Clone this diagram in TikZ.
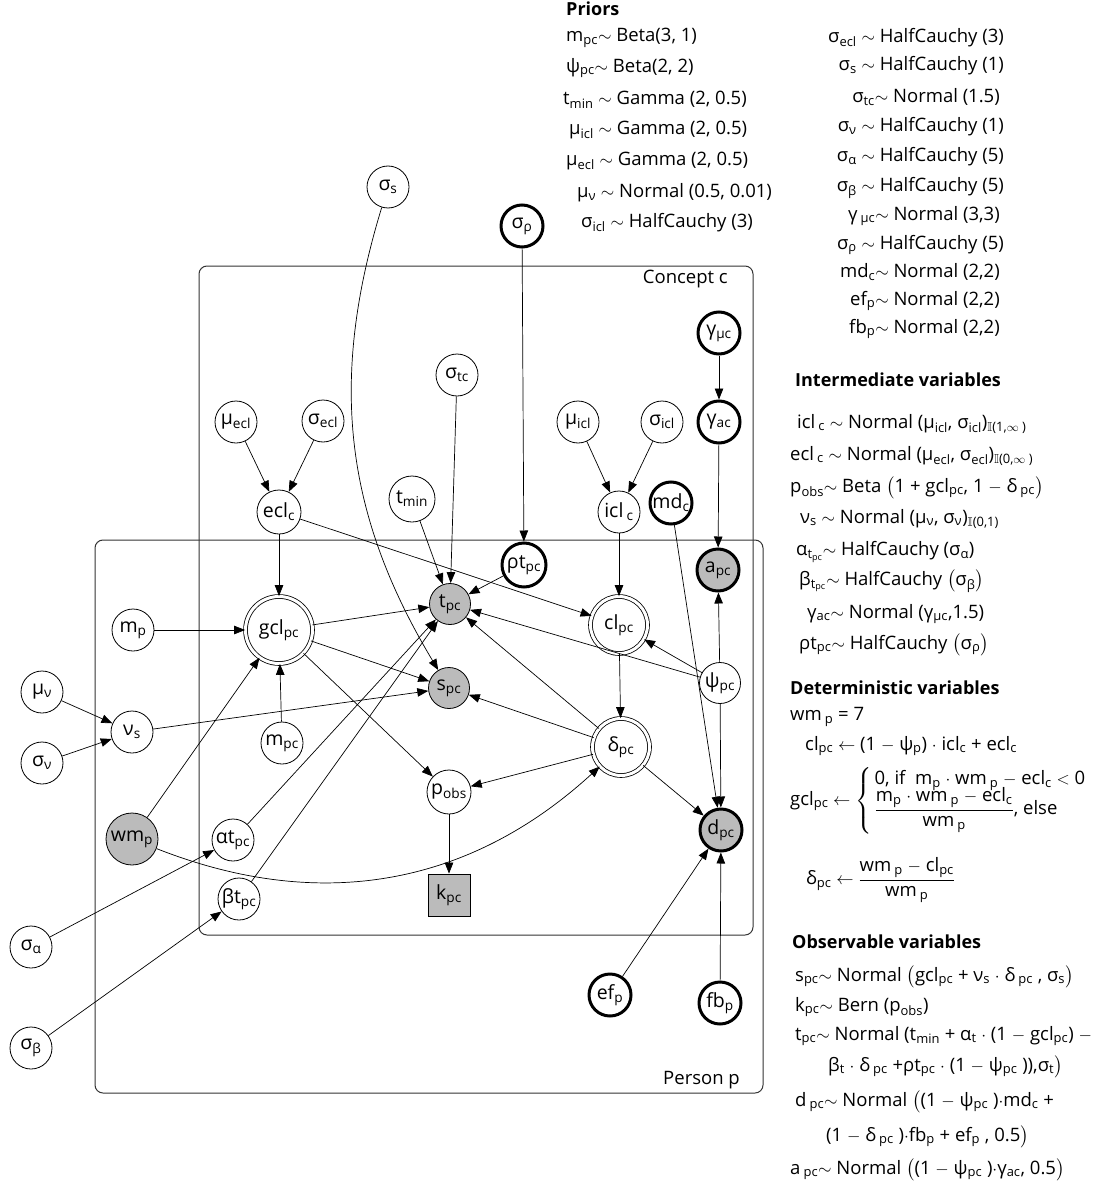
\documentclass[tikz,border=0pt]{standalone}
\usepackage{amsmath,amssymb}
\usepackage{fontspec}
\setmainfont{Open Sans}
\usetikzlibrary{arrows.meta}
\newcommand\sbs[1]{\textsubscript{#1}}
\newcommand\lpar{\smash{$\bigl($}}
\newcommand\rpar{\smash{$\bigr)$}}
\newcommand\nodefont{\fontsize{19.5}{22}\selectfont}
\newcommand\txtfont{\fontsize{18.5}{21}\selectfont}
\newcommand\headfont{\fontsize{18}{21}\selectfont\bfseries}
\definecolor{obsgray}{HTML}{BBBBBB}
\tikzset{
 var/.style={circle,draw,line width=0.8pt,fill=white,minimum size=42pt,inner sep=0pt,font=\nodefont},
 obsv/.style={fill=obsgray},
 hv/.style={line width=3pt},
 detv/.style={double,double distance=3pt,line width=0.8pt},
 edge/.style={-{Triangle[length=11pt,width=8.5pt]},line width=0.7pt},
 plate/.style={draw=black!80,line width=1pt,rounded corners=8pt},
 txt/.style={anchor=west,inner sep=0pt,font=\txtfont},
 txr/.style={anchor=east,inner sep=0pt,font=\txtfont},
 hd/.style={anchor=west,inner sep=0pt,font=\headfont},
}
\begin{document}
\begin{tikzpicture}[x=1pt,y=1pt]
\useasboundingbox (0,0) rectangle (1112,-1198);
% plates
\draw[plate] (199,-266) rectangle (753,-935);
\draw[plate] (95,-540) rectangle (763,-1093);
\node[txr] (conceptlbl) at (728,-279) {Concept c};
\node[txr] (personlbl) at (740,-1080) {Person p};
% nodes
\node[var] (ss) at (388,-187) {σ\sbs{s}};
\node[var,hv] (srho) at (522,-226) {σ\sbs{ρ}};
\node[var,hv] (gmuc) at (719,-333) {γ\sbs{μc}};
\node[var,hv] (gac) at (719,-422) {γ\sbs{ac}};
\node[var] (stc) at (457,-375) {σ\sbs{tc}};
\node[var] (muecl) at (236,-422) {μ\sbs{ecl}};
\node[var] (secl) at (323,-421) {σ\sbs{ecl}};
\node[var] (muicl) at (578,-422) {μ\sbs{icl}};
\node[var] (sicl) at (662,-422) {σ\sbs{icl}};
\node[var,minimum size=44pt] (eclc) at (279,-512) {ecl\sbs{c}};
\node[var] (iclc) at (619,-512) {icl\,\sbs{c}};
\node[var,minimum size=46pt] (tmin) at (412,-499) {t\sbs{min}};
\node[var,hv] (mdc) at (671,-503) {md\sbs{c}};
\node[var,hv,minimum size=44pt] (rtpc) at (524,-565) {ρt\sbs{pc}};
\node[var,hv,obsv] (apc) at (718,-570) {a\sbs{pc}};
\node[var,obsv,minimum size=41pt] (tpc) at (450,-604) {t\sbs{pc}};
\node[var,detv,minimum size=67pt] (gcl) at (279,-630) {gcl\sbs{pc}};
\node[var] (mp) at (133,-630) {m\sbs{p}};
\node[var,detv,minimum size=57pt] (clpc) at (619,-625) {cl\sbs{pc}};
\node[var,obsv,minimum size=41pt] (spc) at (449,-688) {s\sbs{pc}};
\node[var,minimum size=41pt] (psi) at (720,-683) {ψ\sbs{pc}};
\node[var] (muv) at (42,-692) {μ\sbs{ν}};
\node[var] (nus) at (132,-732) {ν\sbs{s}};
\node[var] (sv) at (42,-763) {σ\sbs{ν}};
\node[var] (mpc) at (282,-743) {m\sbs{pc}};
\node[var,detv,minimum size=57pt] (delta) at (621,-747) {δ\sbs{pc}};
\node[var,minimum size=44pt] (pobs) at (449,-792) {p\sbs{obs}};
\node[var,hv,obsv] (dpc) at (721,-830) {d\sbs{pc}};
\node[var,obsv,minimum size=52pt] (wmp) at (132,-839) {wm\sbs{p}};
\node[var] (atpc) at (233,-840) {αt\sbs{pc}};
\node[var] (btpc) at (239,-899) {βt\sbs{pc}};
\node[draw,line width=0.8pt,fill=obsgray,minimum size=42pt,inner sep=0pt,font=\nodefont] (kpc) at (449,-895) {k\sbs{pc}};
\node[var] (sa) at (31,-947) {σ\sbs{α}};
\node[var] (sb) at (31,-1048) {σ\sbs{β}};
\node[var,hv] (efp) at (610,-995) {ef\sbs{p}};
\node[var,hv] (fbp) at (720,-1003) {fb\sbs{p}};
% edges
\draw[edge] (muecl) -- (eclc);
\draw[edge] (secl) -- (eclc);
\draw[edge] (eclc) -- (gcl);
\draw[edge] (eclc) -- (clpc);
\draw[edge] (mp) -- (gcl);
\draw[edge] (mpc) -- (gcl);
\draw[edge] (wmp) -- (gcl);
\draw[edge] (wmp) to[bend right=32] (delta);
\draw[edge] (gcl) -- (tpc);
\draw[edge] (gcl) -- (spc);
\draw[edge] (gcl) -- (pobs);
\draw[edge] (ss) to[bend right=24] (spc);
\draw[edge] (stc) -- (tpc);
\draw[edge] (tmin) -- (tpc);
\draw[edge] (srho) -- (rtpc);
\draw[edge] (rtpc) -- (tpc);
\draw[edge] (atpc) -- (tpc);
\draw[edge] (btpc) -- (tpc);
\draw[edge] (psi) -- (tpc);
\draw[edge] (delta) -- (tpc);
\draw[edge] (psi) -- (clpc);
\draw[edge] (psi) -- (apc);
\draw[edge] (psi) -- (dpc);
\draw[edge] (muicl) -- (iclc);
\draw[edge] (sicl) -- (iclc);
\draw[edge] (iclc) -- (clpc);
\draw[edge] (clpc) -- (delta);
\draw[edge] (delta) -- (spc);
\draw[edge] (delta) -- (pobs);
\draw[edge] (delta) -- (dpc);
\draw[edge] (mdc) -- (dpc);
\draw[edge] (gmuc) -- (gac);
\draw[edge] (gac) -- (apc);
\draw[edge] (nus) -- (spc);
\draw[edge] (muv) -- (nus);
\draw[edge] (sv) -- (nus);
\draw[edge] (sa) -- (atpc);
\draw[edge] (sb) -- (btpc);
\draw[edge] (pobs) -- (kpc);
\draw[edge] (efp) -- (dpc);
\draw[edge] (fbp) -- (dpc);
% priors
\node[hd] (hpri) at (566,-9) {Priors};
\node[txt] (p1) at (566,-38) {m\sbs{pc}$\sim$ Beta(3,\ 1)};
\node[txt] (p2) at (566,-68) {ψ\sbs{pc}$\sim$ Beta(2,\ 2)};
\node[txt] (p3) at (563,-100) {t\sbs{min} $\sim$ Gamma (2,\ 0.5)};
\node[txt] (p4) at (569,-130) {μ\sbs{icl} $\sim$ Gamma (2,\ 0.5)};
\node[txt] (p5) at (566,-161) {μ\sbs{ecl} $\sim$ Gamma (2,\ 0.5)};
\node[txt] (p6) at (577,-193) {μ\sbs{ν} $\sim$ Normal (0.5,\ 0.01)};
\node[txt] (p7) at (581,-223) {σ\sbs{icl} $\sim$ HalfCauchy\ (3)};
\node[txr] (q1) at (1004,-38) {σ\sbs{ecl} $\sim$ HalfCauchy\ (3)};
\node[txr] (q2) at (1004,-66) {σ\sbs{s} $\sim$ HalfCauchy\ (1)};
\node[txr] (q3) at (1000,-97) {σ\sbs{tc}$\sim$ Normal\ (1.5)};
\node[txr] (q4) at (1004,-127) {σ\sbs{ν} $\sim$ HalfCauchy\ (1)};
\node[txr] (q5) at (1004,-157) {σ\sbs{α} $\sim$ HalfCauchy\ (5)};
\node[txr] (q6) at (1004,-188) {σ\sbs{β} $\sim$ HalfCauchy\ (5)};
\node[txr] (q7) at (1000,-216) {γ\,\sbs{μc}$\sim$ Normal\ (3,3)};
\node[txr] (q8) at (1004,-245) {σ\sbs{ρ} $\sim$ HalfCauchy\ (5)};
\node[txr] (q9) at (1000,-272) {md\sbs{c}$\sim$ Normal\ (2,2)};
\node[txr] (q10) at (1000,-301) {ef\sbs{p}$\sim$ Normal\ (2,2)};
\node[txr] (q11) at (1000,-329) {fb\sbs{p}$\sim$ Normal\ (2,2)};
% intermediate
\node[hd] (hint) at (795,-380) {Intermediate\ variables};
\node[txt] (i1) at (797,-424) {icl\,\sbs{c} $\sim$ Normal (μ\sbs{icl}, σ\sbs{icl})\sbs{$\mathbb{I}$(1,$\infty$ )}};
\node[txt] (i2) at (790,-456) {ecl\,\sbs{c} $\sim$ Normal (μ\sbs{ecl}, σ\sbs{ecl})\sbs{$\mathbb{I}$(0,$\infty$ )}};
\node[txt] (i3) at (790,-488) {p\sbs{obs}$\sim$ Beta \lpar 1 + gcl\sbs{pc}, 1 $-$ δ\,\sbs{pc}\rpar};
\node[txt] (i4) at (800,-519) {ν\sbs{s} $\sim$ Normal (μ\sbs{ν}, σ\sbs{ν})\sbs{$\mathbb{I}$(0,1)}};
\node[txt] (i5) at (796,-552) {α\sbs{t\sbs{pc}}$\sim$ HalfCauchy (σ\sbs{α})};
\node[txt] (i6) at (799,-582) {β\sbs{t\sbs{pc}}$\sim$ HalfCauchy \lpar σ\sbs{β}\rpar};
\node[txt] (i7) at (807,-614) {γ\sbs{ac}$\sim$ Normal (γ\sbs{μc},1.5)};
\node[txt] (i8) at (799,-645) {ρt\sbs{pc}$\sim$ HalfCauchy \lpar σ\sbs{ρ}\rpar};
% deterministic
\node[hd] (hdet) at (790,-688) {Deterministic\ variables};
\node[txt] (d1) at (790,-717) {wm\,\sbs{p} = 7};
\node[txt] (d2) at (805,-746) {cl\sbs{pc} $\leftarrow$ (1 $-$ ψ\sbs{p}) $\cdot$ icl\sbs{c} + ecl\sbs{c}};
\node[txt] (d3) at (790,-801) {gcl\sbs{pc} $\leftarrow$ $\left\{\begin{array}{@{\,}l@{}}\text{0, if\ \ m\sbs{p} $\cdot$ wm\,\sbs{p} $-$ ecl\sbs{c} $<$ 0}\\[-3pt] \dfrac{\text{m\sbs{p} $\cdot$ wm\,\sbs{p} $-$ ecl\sbs{c}}}{\text{wm\,\sbs{p}}}\text{, else}\end{array}\right.$};
\node[txt] (d4) at (806,-880) {δ\sbs{pc} $\leftarrow$ $\dfrac{\text{wm\,\sbs{p} $-$ cl\sbs{pc}}}{\text{wm\,\sbs{p}}}$};
% observable
\node[hd] (hobs) at (792,-942) {Observable\ variables};
\node[txt] (o1) at (795,-977) {s\sbs{pc}$\sim$ Normal \lpar gcl\sbs{pc} + ν\sbs{s} $\cdot$ δ\,\sbs{pc} , σ\sbs{s}\rpar};
\node[txt] (o2) at (795,-1007) {k\sbs{pc}$\sim$ Bern (p\sbs{obs})};
\node[txt] (o3) at (795,-1036) {t\sbs{pc}$\sim$ Normal (t\sbs{min} + α\sbs{t} $\cdot$ (1 $-$ gcl\sbs{pc}) $-$};
\node[txt] (o4) at (828,-1067) {β\sbs{t} $\cdot$ δ\,\sbs{pc} +ρt\sbs{pc} $\cdot$ (1 $-$ ψ\sbs{pc} )),σ\sbs{t}\rpar};
\node[txt] (o5) at (795,-1102) {d\,\sbs{pc}$\sim$ Normal \lpar(1 $-$ ψ\sbs{pc} )$\cdot$md\sbs{c} +};
\node[txt] (o6) at (826,-1137) {(1 $-$ δ\,\sbs{pc} )$\cdot$fb\sbs{p} + ef\sbs{p} , 0.5\rpar};
\node[txt] (o7) at (790,-1170) {a\,\sbs{pc}$\sim$ Normal \lpar(1 $-$ ψ\sbs{pc} )$\cdot$γ\sbs{ac}, 0.5\rpar};
\end{tikzpicture}
\end{document}
